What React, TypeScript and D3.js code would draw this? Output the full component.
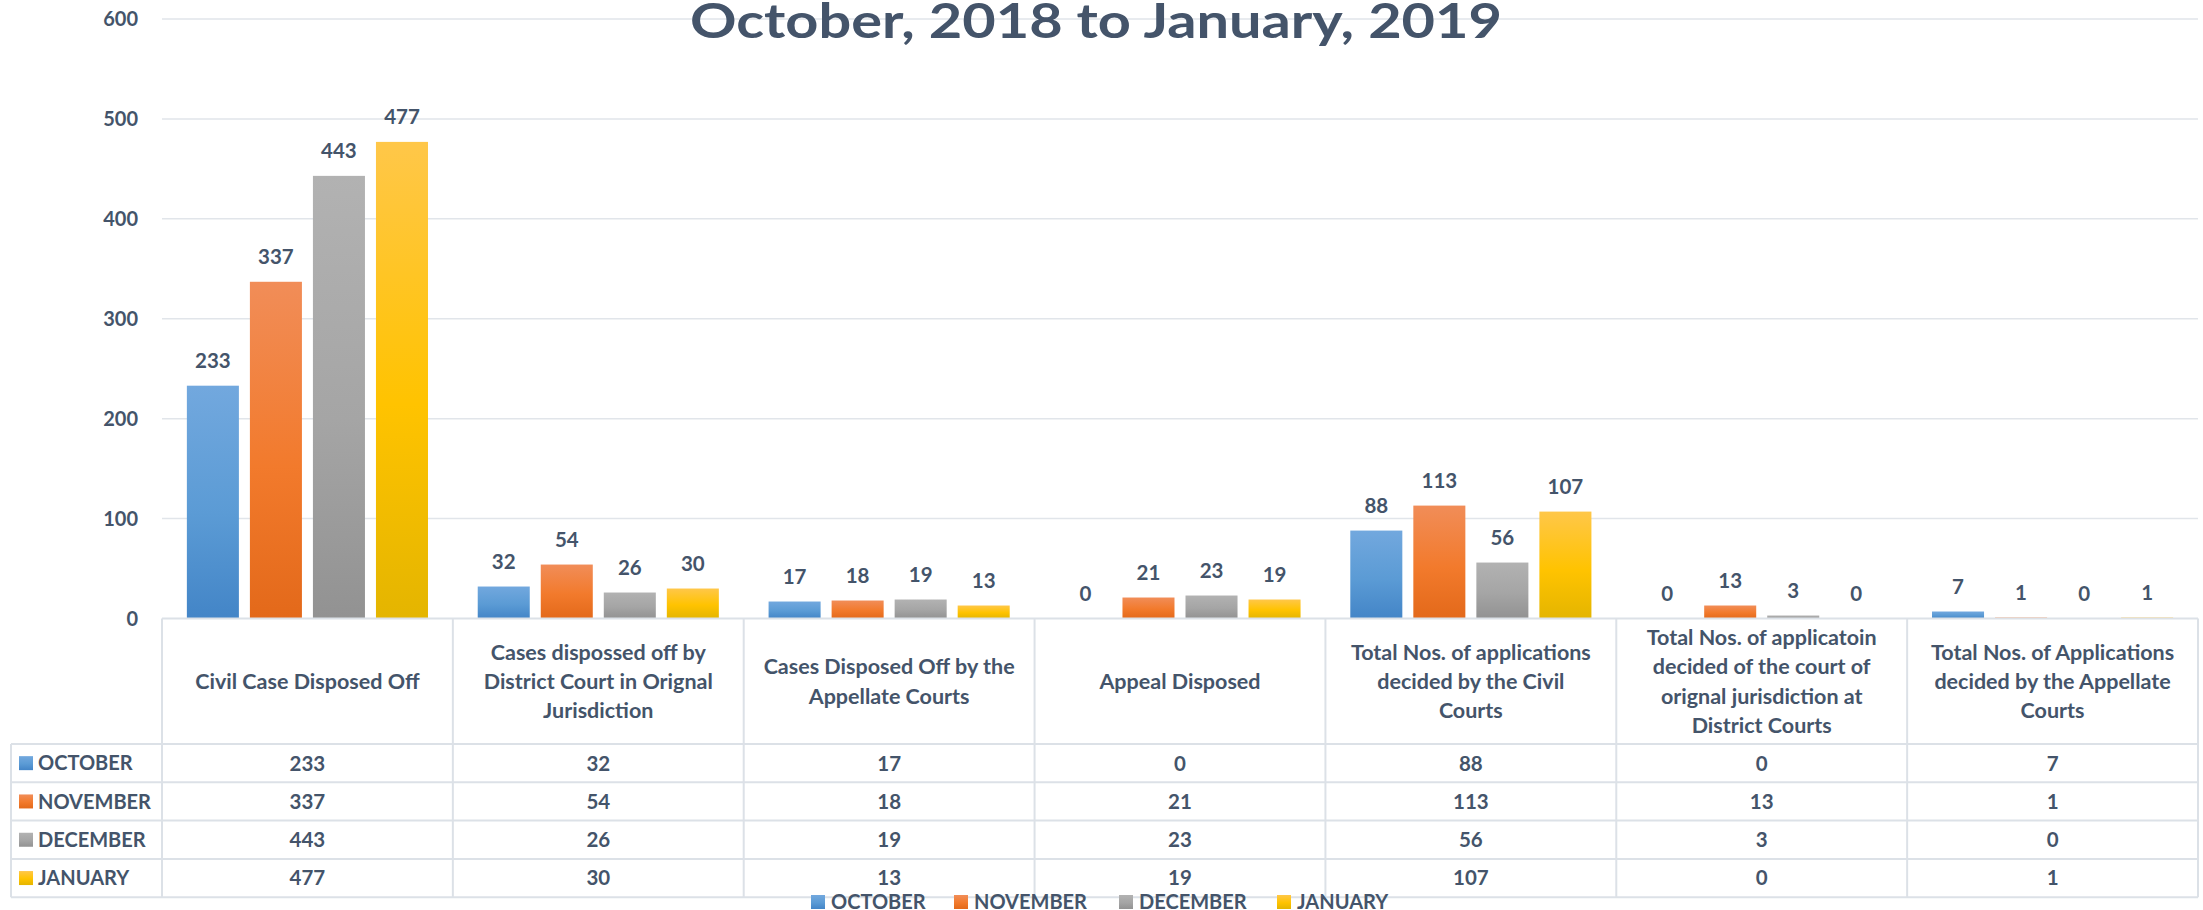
import React from "react";
import * as d3 from "d3";

const categories = [
  "Civil Case Disposed Off",
  "Cases dispossed off by District Court in Orignal Jurisdiction",
  "Cases Disposed Off by the Appellate Courts",
  "Appeal Disposed",
  "Total Nos. of applications decided by the Civil Courts",
  "Total Nos. of applicatoin decided of the court of orignal jurisdiction at District Courts",
  "Total Nos. of Applications decided by the Appellate Courts",
];
const categoryLines = [
  ["Civil Case Disposed Off"],
  ["Cases dispossed off by", "District Court in Orignal", "Jurisdiction"],
  ["Cases Disposed Off by the", "Appellate Courts"],
  ["Appeal Disposed"],
  ["Total Nos. of applications", "decided by the Civil", "Courts"],
  ["Total Nos. of applicatoin", "decided of the court of", "orignal jurisdiction at", "District Courts"],
  ["Total Nos. of Applications", "decided by the Appellate", "Courts"],
];
const months = ["OCTOBER", "NOVEMBER", "DECEMBER", "JANUARY"];
const octoberValues = [233, 32, 17, 0, 88, 0, 7];
const novemberValues = [337, 54, 18, 21, 113, 13, 1];
const decemberValues = [443, 26, 19, 23, 56, 3, 0];
const januaryValues = [477, 30, 13, 19, 107, 0, 1];
const seriesValues = [octoberValues, novemberValues, decemberValues, januaryValues];
const yTicks = [0, 100, 200, 300, 400, 500, 600];
const titleText = "October, 2018 to January, 2019";

const gradients = [
  ["#72A8DE", "#5B9BD5", "#4385C7"],
  ["#F18D58", "#F27A2C", "#E3691A"],
  ["#B2B2B2", "#A5A5A5", "#929292"],
  ["#FFC749", "#FFC300", "#E4B500"],
];

const W = 2203;
const H = 910;
const TEXT = "#44546A";
const LINE = "#DCE1E7";
const FONT = "Lato, 'Open Sans', sans-serif";

export default function App() {
  const plotLeft = 162;
  const plotRight = 2198;
  const x = d3.scaleBand<number>().domain(categories.map((_, i) => i)).range([plotLeft, plotRight]).padding(0);
  const groupW = x.bandwidth() * 0.829;
  const xs = d3.scaleBand<string>().domain(months).range([0, groupW]).paddingInner(11 / 63).paddingOuter(0);
  const y = d3.scaleLinear().domain([0, 600]).range([618.5, 19]);

  const tableTop = y(0);
  const headerBottom = 744;
  const rowH = 38.3;
  const legendLeft = 11;
  const tableBottom = headerBottom + rowH * months.length;

  return (
    <svg width={W} height={H} style={{ position: "absolute", left: 0, top: 0, background: "#fff" }} fontFamily={FONT}>
      <defs>
        {gradients.map((g, i) => (
          <linearGradient key={i} id={`grad${i}`} x1="0" y1="0" x2="0" y2="1">
            <stop offset="0%" stopColor={g[0]} />
            <stop offset="55%" stopColor={g[1]} />
            <stop offset="100%" stopColor={g[2]} />
          </linearGradient>
        ))}
      </defs>
      <rect width={W} height={H} fill="#fff" />
      {/* gridlines */}
      {yTicks.filter((t) => t > 0).map((t) => (
        <line key={t} x1={plotLeft} x2={plotRight} y1={y(t)} y2={y(t)} stroke="#E1E5EA" strokeWidth={1.5} />
      ))}
      {/* y tick labels */}
      {yTicks.map((t) => (
        <text key={t} x={138} y={y(t)} dy="0.36em" textAnchor="end" fontSize={20} fontWeight={700} fill={TEXT}>
          {t}
        </text>
      ))}
      {/* title */}
      <text
        x={1096}
        y={38}
        textAnchor="middle"
        fontSize={48}
        fontWeight={700}
        fill={TEXT}
        textLength={812}
        lengthAdjust="spacingAndGlyphs"
      >
        {titleText}
      </text>
      {/* bars */}
      {seriesValues.map((vals, si) =>
        vals.map((v, ci) => {
          const bx = (x(ci) as number) + (x.bandwidth() - groupW) / 2 + (xs(months[si]) as number);
          return (
            <g key={`${si}-${ci}`}>
              {v > 0 && (
                <rect x={bx} y={y(v)} width={xs.bandwidth()} height={y(0) - y(v)} fill={`url(#grad${si})`} />
              )}
              <text
                x={bx + xs.bandwidth() / 2}
                y={y(v) - 18}
                textAnchor="middle"
                fontSize={20.5}
                fontWeight={700}
                fill={TEXT}
              >
                {v}
              </text>
            </g>
          );
        })
      )}
      {/* table lines */}
      <line x1={plotLeft} x2={plotRight} y1={tableTop} y2={tableTop} stroke={LINE} strokeWidth={2} />
      {[headerBottom, ...months.map((_, i) => headerBottom + rowH * (i + 1))].map((ly, i) => (
        <line key={`h${i}`} x1={legendLeft} x2={plotRight} y1={ly} y2={ly} stroke={LINE} strokeWidth={2} />
      ))}
      <line x1={legendLeft} x2={legendLeft} y1={headerBottom} y2={tableBottom} stroke={LINE} strokeWidth={2} />
      {categories.map((_, i) => (
        <line key={`v${i}`} x1={x(i)} x2={x(i)} y1={tableTop} y2={tableBottom} stroke={LINE} strokeWidth={2} />
      ))}
      <line x1={plotRight} x2={plotRight} y1={tableTop} y2={tableBottom} stroke={LINE} strokeWidth={2} />
      {/* header labels */}
      {categoryLines.map((lines, ci) => {
        const cx = (x(ci) as number) + x.bandwidth() / 2;
        const cy = (tableTop + headerBottom) / 2;
        const lh = 29.4;
        return (
          <text key={`c${ci}`} textAnchor="middle" fontSize={21.5} fontWeight={700} fill={TEXT}>
            {lines.map((ln, li) => (
              <tspan key={li} x={cx} y={cy + (li - (lines.length - 1) / 2) * lh} dy="0.36em">
                {ln}
              </tspan>
            ))}
          </text>
        );
      })}
      {/* table rows */}
      {months.map((m, si) => {
        const cy = headerBottom + rowH * si + rowH / 2;
        return (
          <g key={`r${m}`}>
            <rect x={19} y={cy - 7} width={14} height={14} fill={`url(#grad${si})`} />
            <text x={38} y={cy} dy="0.36em" fontSize={20} fontWeight={700} fill={TEXT}>
              {m}
            </text>
            {seriesValues[si].map((v, ci) => (
              <text
                key={ci}
                x={(x(ci) as number) + x.bandwidth() / 2}
                y={cy}
                dy="0.36em"
                textAnchor="middle"
                fontSize={20.5}
                fontWeight={700}
                fill={TEXT}
              >
                {v}
              </text>
            ))}
          </g>
        );
      })}
      {/* bottom legend */}
      {months.map((m, si) => {
        const lx = [811, 954, 1119, 1277][si];
        return (
          <g key={`lg${m}`}>
            <rect x={lx} y={895} width={14} height={14} fill={`url(#grad${si})`} />
            <text x={lx + 20} y={908.5} fontSize={20} fontWeight={700} fill={TEXT}>
              {m}
            </text>
          </g>
        );
      })}
    </svg>
  );
}
